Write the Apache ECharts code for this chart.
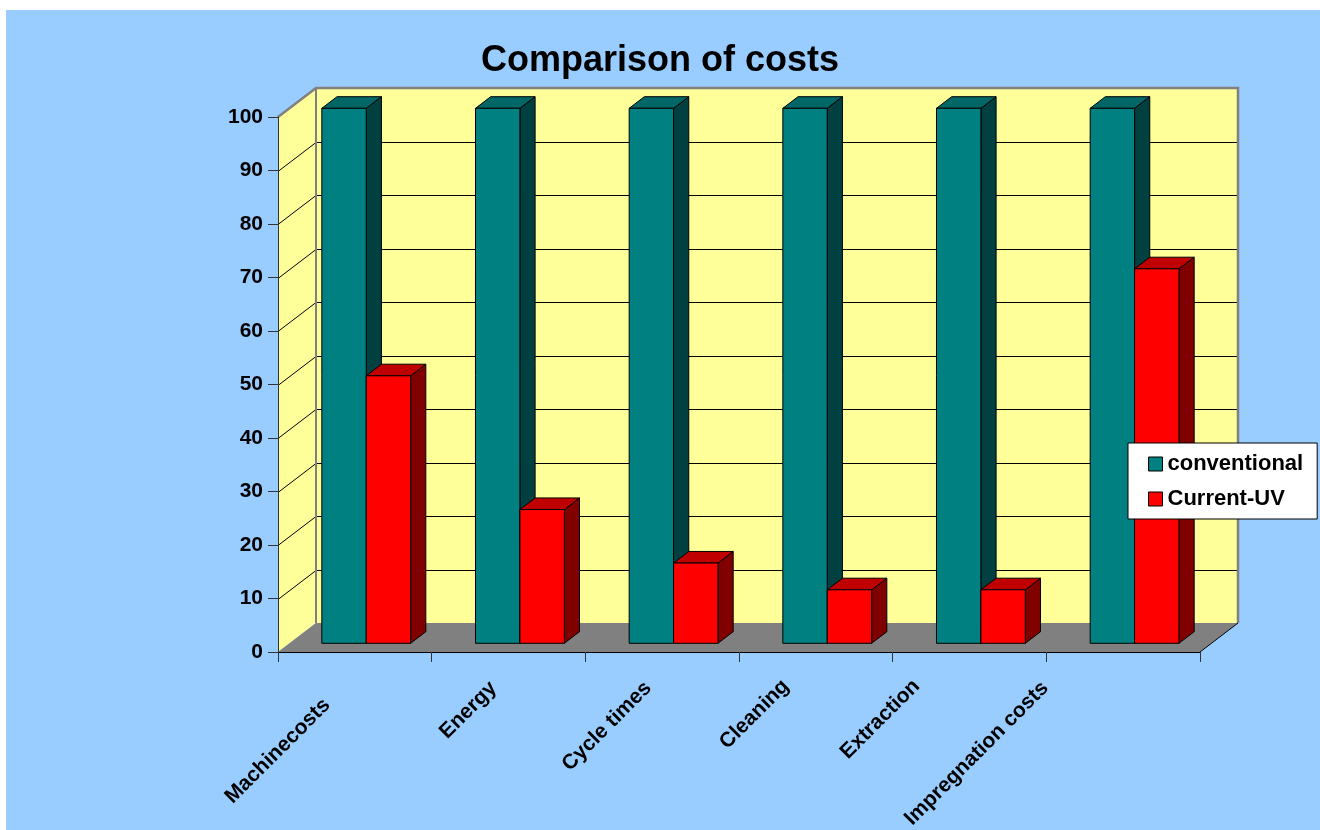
<!DOCTYPE html>
<html>
<head>
<meta charset="utf-8">
<script src="https://cdn.jsdelivr.net/npm/echarts@6/dist/echarts.min.js"></script>
<style>
  html, body { margin: 0; padding: 0; background: #ffffff; }
  #frame { position: absolute; left: 6px; top: 10px; width: 1314px; height: 820px; background: #99CCFF; }
  #chart { position: absolute; left: 0; top: 0; width: 1320px; height: 830px; }
</style>
</head>
<body>
<div id="frame"></div>
<div id="chart"></div>
<script>
// ---- data ----
const categories = ['Machinecosts', 'Energy', 'Cycle times', 'Cleaning', 'Extraction', 'Impregnation costs'];
const conventional = [100, 100, 100, 100, 100, 100];
const currentUV = [50, 25, 15, 10, 10, 70];
const yTicks = [0, 10, 20, 30, 40, 50, 60, 70, 80, 90, 100];

// ---- 3D look ----
const FONT = '"Liberation Sans", Arial, Helvetica, sans-serif';
const DEPTH = [38, -29];          // offset from front plane to back wall
const BAR_DEPTH = [0.3, 0.7];     // bars sit between these fractions of the depth
const BAR_WIDTH = 0.289;          // bar width as a share of one category band
const LABEL_SHIFT = [[-28, 50], [-15, 33], [-14, 33], [-30, 31], [-53, 31], [-78, 33]];

const WALL = '#FFFF99';
const FLOOR = '#808080';
const EDGE = '#808080';

function wallsRender(params, api) {
  const cs = params.coordSys;
  const x0 = cs.x, x1 = cs.x + cs.width;
  const yTop = api.coord([0, yTicks[yTicks.length - 1]])[1];
  const yBot = api.coord([0, yTicks[0]])[1];
  const dx = DEPTH[0], dy = DEPTH[1];
  const kids = [];
  kids.push({ type: 'polygon', shape: { points: [[x0, yBot], [x0, yTop], [x0 + dx, yTop + dy], [x0 + dx, yBot + dy]] },
    style: { fill: WALL } });
  kids.push({ type: 'rect', shape: { x: x0 + dx, y: yTop + dy, width: cs.width, height: yBot - yTop },
    style: { fill: WALL } });
  kids.push({ type: 'polygon', shape: { points: [[x0, yBot], [x1, yBot], [x1 + dx, yBot + dy], [x0 + dx, yBot + dy]] },
    style: { fill: FLOOR } });
  yTicks.forEach(function (v, k) {
    if (k === 0 || k === yTicks.length - 1) return;
    const y = Math.round(api.coord([0, v])[1]) + 0.5;
    kids.push({ type: 'line', shape: { x1: x0, y1: y, x2: x0 + dx, y2: y + dy }, style: { stroke: '#000', lineWidth: 1 } });
    kids.push({ type: 'line', shape: { x1: x0 + dx, y1: y + dy, x2: x1 + dx, y2: y + dy }, style: { stroke: '#000', lineWidth: 1 } });
  });
  kids.push({ type: 'polyline', shape: { points: [[x0, yTop], [x0 + dx, yTop + dy], [x1 + dx, yTop + dy], [x1 + dx, yBot + dy]] },
    style: { stroke: EDGE, lineWidth: 2.5, fill: null } });
  kids.push({ type: 'line', shape: { x1: x0 + dx, y1: yTop + dy, x2: x0 + dx, y2: yBot + dy }, style: { stroke: EDGE, lineWidth: 2 } });
  kids.push({ type: 'line', shape: { x1: x1, y1: yBot, x2: x1 + dx, y2: yBot + dy }, style: { stroke: '#000', lineWidth: 1 } });
  return { type: 'group', children: kids };
}

function makeBarRender(slot, front, top, side) {
  return function (params, api) {
    const i = api.value(0), v = api.value(1);
    const pTop = api.coord([i, v]);
    const pBase = api.coord([i, 0]);
    const band = api.size([1, 0])[0];
    const w = band * BAR_WIDTH;
    const f = BAR_DEPTH[0], d = BAR_DEPTH[1] - BAR_DEPTH[0];
    const fx = DEPTH[0] * f, fy = DEPTH[1] * f;
    const ddx = DEPTH[0] * d, ddy = DEPTH[1] * d;
    const xl = pTop[0] + slot * w + fx;
    const xr = xl + w;
    const yt = pTop[1] + fy;
    const yb = pBase[1] + fy;
    const stroke = { stroke: '#000', lineWidth: 1, lineJoin: 'round' };
    return {
      type: 'group',
      children: [
        { type: 'polygon', shape: { points: [[xr, yt], [xr + ddx, yt + ddy], [xr + ddx, yb + ddy], [xr, yb]] },
          style: Object.assign({ fill: side }, stroke) },
        { type: 'polygon', shape: { points: [[xl, yt], [xr, yt], [xr + ddx, yt + ddy], [xl + ddx, yt + ddy]] },
          style: Object.assign({ fill: top }, stroke) },
        { type: 'rect', shape: { x: xl, y: yt, width: w, height: yb - yt },
          style: Object.assign({ fill: front }, stroke) }
      ]
    };
  };
}

function labelRender(params, api) {
  const i = api.value(0);
  const p = api.coord([i, 0]);
  return {
    type: 'text',
    x: p[0] + LABEL_SHIFT[i][0],
    y: p[1] + LABEL_SHIFT[i][1],
    rotation: Math.PI / 4,
    style: { text: categories[i], align: 'right', verticalAlign: 'middle',
      font: 'bold 21px ' + FONT, fill: '#000' }
  };
}

const chart = echarts.init(document.getElementById('chart'), null, { renderer: 'canvas' });
chart.setOption({
  animation: false,
  backgroundColor: 'transparent',
  title: {
    text: 'Comparison of costs',
    left: 'center',
    top: 38,
    textStyle: { fontFamily: FONT, fontWeight: 'bold', fontSize: 36, color: '#000' }
  },
  legend: {
    data: ['conventional', 'Current-UV'],
    orient: 'vertical',
    left: 1128,
    top: 443,
    padding: [10, 14, 9, 20],
    itemGap: 13,
    itemWidth: 14,
    itemHeight: 14,
    itemTextGap: 4,
    icon: 'rect',
    backgroundColor: '#ffffff',
    borderColor: '#000',
    borderWidth: 1,
    borderRadius: 0,
    itemStyle: { borderColor: '#000', borderWidth: 1 },
    textStyle: { fontFamily: FONT, fontWeight: 'bold', fontSize: 22, color: '#000' }
  },
  grid: { left: 278, top: 117, width: 922, height: 535, containLabel: false },
  xAxis: {
    type: 'category',
    data: categories,
    z: 10,
    axisLine: { lineStyle: { color: '#000', width: 1 } },
    axisTick: { show: true, length: 10, lineStyle: { color: '#333' } },
    axisLabel: { show: false },
    splitLine: { show: false }
  },
  yAxis: {
    type: 'value',
    min: 0,
    max: 100,
    interval: 10,
    z: 10,
    axisLine: { show: true, lineStyle: { color: '#333', width: 1 } },
    axisTick: { show: true, length: 10, lineStyle: { color: '#333' } },
    axisLabel: { margin: 15, fontFamily: FONT, fontWeight: 'bold', fontSize: 21, color: '#000' },
    splitLine: { show: false }
  },
  series: [
    { type: 'custom', name: 'walls', silent: true, z: 1, data: [[0, 0]], renderItem: wallsRender },
    { type: 'custom', name: 'conventional', z: 2, itemStyle: { color: '#008080' },
      encode: { x: 0, y: 1 },
      data: conventional.map(function (v, i) { return [i, v]; }),
      renderItem: makeBarRender(-1, '#008080', '#006666', '#004040') },
    { type: 'custom', name: 'Current-UV', z: 3, itemStyle: { color: '#FF0000' },
      encode: { x: 0, y: 1 },
      data: currentUV.map(function (v, i) { return [i, v]; }),
      renderItem: makeBarRender(0, '#FF0000', '#C00000', '#800000') },
    { type: 'custom', name: 'labels', silent: true, z: 4,
      data: categories.map(function (c, i) { return [i, 0]; }),
      renderItem: labelRender }
  ]
});
</script>
</body>
</html>
